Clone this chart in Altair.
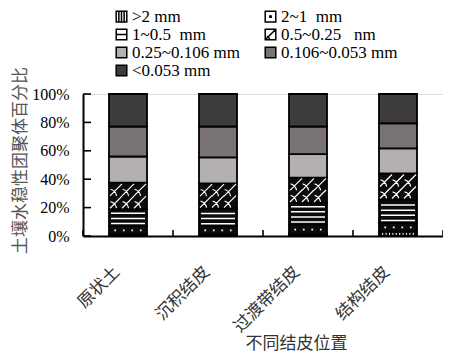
import altair as alt
import pandas as pd

NB = "\u00a0"
cats = ["原状土", "沉积结皮", "过渡带结皮", "结构结皮"]
classes = [">2 mm", "2~1" + NB + NB + "mm", "1~0.5" + NB + NB + "mm", "0.5~0.25" + NB + NB + NB + "nm",
           "0.25~0.106" + NB + "mm", "0.106~0.053" + NB + "mm", "<0.053 mm"]

v_gt2 = [1.0, 1.0, 1.0, 3.0]
v_2_1 = [6.0, 5.9, 7.0, 6.2]
v_1_05 = [11.7, 12.5, 15.4, 16.5]
v_05_025 = [18.9, 17.7, 17.7, 18.3]
v_025_0106 = [18.4, 18.2, 16.6, 17.7]
v_0106_0053 = [21.1, 21.8, 19.4, 17.7]
v_lt0053 = [22.9, 22.9, 22.9, 20.6]

y_ticks = [0, 20, 40, 60, 80, 100]

series = [v_gt2, v_2_1, v_1_05, v_05_025, v_025_0106, v_0106_0053, v_lt0053]
bar_fills = ["#0b0b0b", "#0b0b0b", "#0b0b0b", "#0b0b0b", "#b3b0af", "#797473", "#3e3c3b"]
legend_fills = ["#ffffff", "#ffffff", "#ffffff", "#ffffff", "#b3b0af", "#797473", "#3e3c3b"]
SQ = "M-1,-1H1V1H-1Z"
legend_paths = [
    SQ + "M-0.5,-1V1M0,-1V1M0.5,-1V1",
    SQ + "M-0.12,-0.12H0.12V0.12H-0.12Z",
    SQ + "M-1,0H1",
    SQ + "M-1,1L1,-1M-0.7,0.3Q-0.2,0.5-0.1,1",
    SQ, SQ, SQ,
]

rows = []
for ci, c in enumerate(cats):
    for k, s in enumerate(series):
        rows.append({"cat": c, "cls": classes[k], "idx": k, "val": s[ci], "fill": bar_fills[k]})
bars_df = pd.DataFrame(rows)

def hlines(lo, hi):
    out = []
    y = lo + 1.8
    while y < hi - 1.2:
        out.append(y)
        y += 3.6
    return out

tile = 0.706
def hatch_path():
    p = ""
    for cx in (-tile, 0, tile):
        h = tile / 2
        p += f"M{cx-h:.3f},{h:.3f}L{cx+h:.3f},{-h:.3f}"
        p += f"M{cx-h*0.9:.3f},{-h*0.1:.3f}Q{cx-h*0.1:.3f},{h*0.1:.3f} {cx+h*0.1:.3f},{h:.3f}"
    return p

dots_path = "".join(f"M{x-0.05:.3f},-0.05h0.1v0.1h-0.1Z" for x in (-0.75, -0.25, 0.25, 0.75))
vl_path = "".join(f"M{x/10:.2f},-0.06V0.06" for x in range(-9, 10, 2))

line_rows, hatch_rows, dot_rows, vl_rows = [], [], [], []
for ci, c in enumerate(cats):
    cum = [0]
    for s in series:
        cum.append(cum[-1] + s[ci])
    for y in hlines(cum[2], cum[3]):
        line_rows.append({"cat": c, "y": y, "path": "M-1,0H1"})
    h = cum[4] - cum[3]
    for f in (0.27, 0.73):
        hatch_rows.append({"cat": c, "y": cum[3] + h * f, "path": hatch_path()})
    dot_rows.append({"cat": c, "y": (cum[1] + cum[2]) / 2, "path": dots_path})
    if series[0][ci] >= 2:
        vl_rows.append({"cat": c, "y": cum[1] / 2, "path": vl_path})

xscale = alt.Scale(domain=cats, paddingInner=0, paddingOuter=0)
yscale = alt.Scale(domain=[0, 100], nice=False)
CJK = "Noto Sans CJK SC"
SERIF = "Times New Roman, Liberation Serif, serif"

xaxis = alt.Axis(title="不同结皮位置", ticks=False, domainColor="black", domainWidth=2,
                 labelAngle=-45, labelAlign="right", labelBaseline="middle",
                 labelFont=CJK, labelFontSize=17, labelColor="#333333",
                 labelPadding=33, labelOffset=-11,
                 titleFont=CJK, titleFontSize=17, titleFontWeight="normal",
                 titleColor="#333333", titleX=213, titleY=107,
                 titleBaseline="middle", titleAlign="center")
yaxis = alt.Axis(values=y_ticks, labelExpr="datum.value + '%'", ticks=False, grid=False,
                 domainColor="black", domainWidth=2, labelFont=SERIF, labelFontSize=16,
                 labelColor="black", labelPadding=14,
                 title="土壤水稳性团聚体百分比", titleFont=CJK, titleFontSize=17,
                 titleFontWeight="normal", titleColor="#555555",
                 titleX=-63, titleY=66, titleAngle=-90,
                 titleBaseline="middle", titleAlign="center")

def X(**kw):
    return alt.X("cat:N", scale=xscale, sort=cats, axis=xaxis, **kw)

def Y(field):
    return alt.Y(field, scale=yscale, axis=yaxis)

bars = alt.Chart(bars_df).mark_bar(size=38, stroke="black", strokeWidth=1.8).encode(
    x=X(),
    y=alt.Y("val:Q", stack="zero", scale=yscale, axis=yaxis),
    order=alt.Order("idx:Q"),
    fill=alt.Fill("fill:N", scale=None),
)

def deco(rows, size, filled, sw=1.4):
    df = pd.DataFrame(rows)
    if filled:
        m = alt.Chart(df).mark_point(filled=True, fill="white", strokeWidth=0, opacity=1)
    else:
        m = alt.Chart(df).mark_point(filled=False, stroke="white", strokeWidth=sw, opacity=1)
    return m.encode(
        x=X(),
        y=Y("y:Q"),
        shape=alt.Shape("path:N", scale=None),
        size=alt.value(size),
    )

lines_l = deco(line_rows, 1156, False, 1.5)
hatch_l = deco(hatch_rows, 1156, False, 1.2)
dots_l = deco(dot_rows, 1156, True)
layers = [bars, lines_l, hatch_l, dots_l]
if vl_rows:
    layers.append(deco(vl_rows, 1156, False, 1.0))

ytick_df = pd.DataFrame({"y": y_ticks})
yticks = alt.Chart(ytick_df).mark_rule(color="black", strokeWidth=1.6).encode(
    y=Y("y:Q"), x=alt.value(0), x2=alt.value(8))
xt_df = pd.DataFrame({"cat": cats})
xticks = alt.Chart(xt_df).mark_rule(color="black", strokeWidth=1.6).encode(
    x=X(bandPosition=0), y=alt.value(142), y2=alt.value(136))
xt_end = alt.Chart(pd.DataFrame({"cat": cats[-1:]})).mark_rule(color="black", strokeWidth=1.6).encode(
    x=X(bandPosition=1), y=alt.value(142), y2=alt.value(136))

leg = alt.Legend(orient="none", legendX=30, legendY=-86, columns=2, direction="horizontal",
                 columnPadding=22, rowPadding=0, title=None, labelFont=SERIF, labelFontSize=17,
                 labelColor="black", symbolSize=112, symbolStrokeWidth=1.5,
                 symbolStrokeColor="black", symbolOpacity=1, labelOffset=2, labelLimit=250)
leg_df = pd.DataFrame({"cls": classes, "cat": [cats[0]] * len(classes), "y": [0] * len(classes)})
legend_layer = alt.Chart(leg_df).mark_point(filled=True, opacity=0, stroke="black", strokeWidth=1.5).encode(
    x=X(),
    y=Y("y:Q"),
    fill=alt.Fill("cls:N", sort=classes, scale=alt.Scale(domain=classes, range=legend_fills), legend=leg),
    shape=alt.Shape("cls:N", sort=classes, scale=alt.Scale(domain=classes, range=legend_paths), legend=leg),
)

chart = alt.layer(*layers, yticks, xticks, xt_end, legend_layer).properties(
    width=360, height=142,
    autosize=alt.AutoSizeParams(type="none"),
    padding={"left": 75, "top": 86, "right": 0, "bottom": 117},
).configure_view(stroke=None).configure(background="white")

chart.save("out.html", embed_options={"renderer": "svg", "actions": False})
